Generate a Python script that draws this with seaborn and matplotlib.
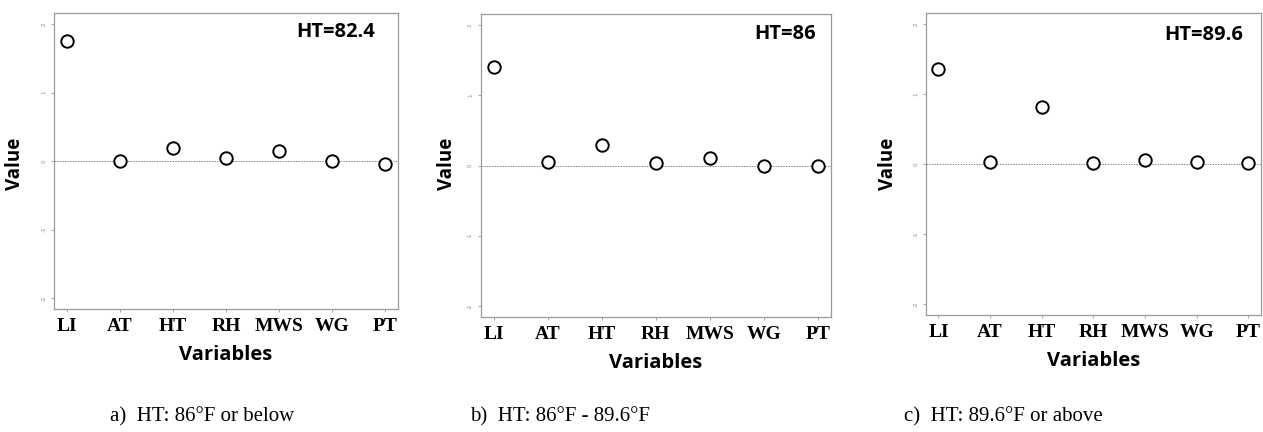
import numpy as np
import pandas as pd
import matplotlib
matplotlib.use("Agg")
import matplotlib.pyplot as plt
import seaborn as sns

variables = ["LI", "AT", "HT", "RH", "MWS", "WG", "PT"]
vals_a = [1.75, 0.005, 0.19, 0.04, 0.14, 0.005, -0.04]
vals_b = [1.41, 0.05, 0.30, 0.03, 0.11, 0.0, 0.0]
vals_c = [1.36, 0.02, 0.81, 0.01, 0.05, 0.02, 0.01]
ht_labels = ["HT=82.4", "HT=86", "HT=89.6"]
captions = ["a)  HT: 86\u00b0F or below", "b)  HT: 86\u00b0F - 89.6\u00b0F", "c)  HT: 89.6\u00b0F or above"]
yticks = [-2, -1, 0, 1, 2]

sns.set_style("white")

fig = plt.figure(figsize=(12.63, 4.32), dpi=100)

# axes boxes (left, bottom, width, height)
boxes = [[0.0428, 0.2847, 0.2724, 0.685],
         [0.3806, 0.2662, 0.2771, 0.701],
         [0.7332, 0.2708, 0.2650, 0.700]]
ht_pos = [(0.82, 0.935), (0.87, 0.935), (0.83, 0.925)]
value_x = [0.012, 0.354, 0.703]
cap_x = [0.087, 0.372, 0.716]

for i, vals in enumerate([vals_a, vals_b, vals_c]):
    ax = fig.add_axes(boxes[i])
    df = pd.DataFrame({"x": np.arange(1, len(variables) + 1), "value": vals})
    ax.axhline(0, color="#888888", lw=0.7, ls=(0, (1.5, 1.2)), zorder=1)
    sns.scatterplot(data=df, x="x", y="value", ax=ax, s=80, facecolor="white",
                    edgecolor="black", linewidth=1.4, zorder=3)
    ax.set_xlim(0.76, 7.24)
    ax.set_ylim(-2.16, 2.16)
    ax.set_xticks(df["x"])
    ax.set_xticklabels(variables, fontfamily="Liberation Serif", fontweight="bold",
                       fontsize=14, color="black")
    ax.set_yticks(yticks)
    ax.set_yticklabels([str(t) for t in yticks], rotation=90, fontsize=4,
                       color="#888888", va="center")
    ax.tick_params(axis="x", length=2.5, width=0.6, color="#999999", pad=4, bottom=True)
    ax.tick_params(axis="y", length=2.5, width=0.6, color="#999999", pad=3, left=True)
    for sp in ax.spines.values():
        sp.set_color("#999999")
        sp.set_linewidth(0.9)
    ax.set_xlabel("Variables", fontfamily="Open Sans", fontweight="bold", fontsize=14.5,
                  labelpad=7, color="black")
    ax.set_ylabel("")
    ax.text(ht_pos[i][0], ht_pos[i][1], ht_labels[i], transform=ax.transAxes,
            ha="center", va="center", fontfamily="Open Sans", fontweight="bold",
            fontsize=14.5, color="black")
    fig.text(value_x[i], 0.62, "Value", rotation=90, ha="center", va="center",
             fontfamily="Open Sans", fontweight="bold", fontsize=13.5, color="black")
    fig.text(cap_x[i], 0.035, captions[i], ha="left", va="center",
             fontfamily="Liberation Serif", fontsize=15, color="black")

fig.savefig("out.png", dpi=100)
